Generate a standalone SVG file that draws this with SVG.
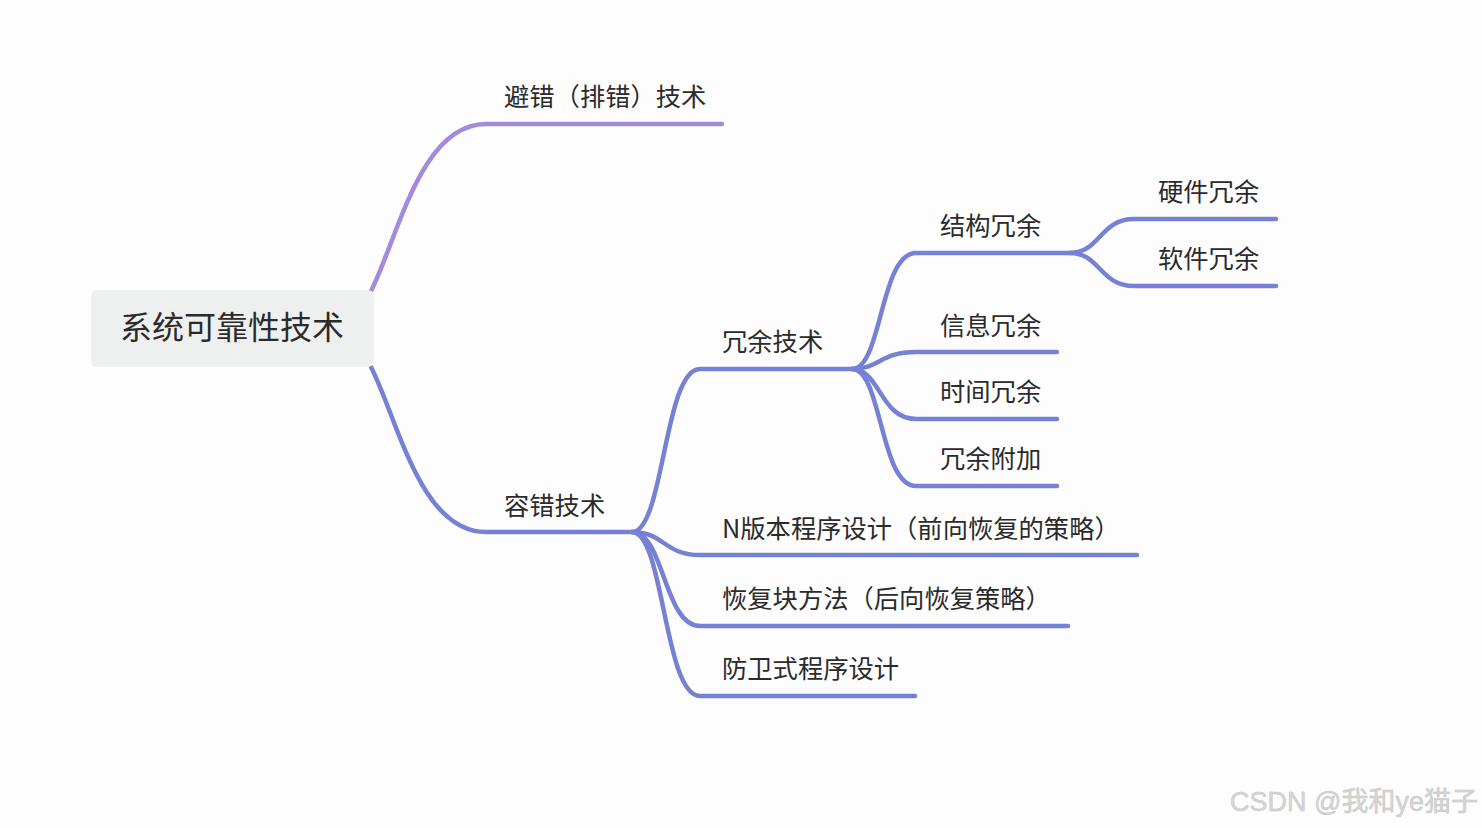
<svg xmlns="http://www.w3.org/2000/svg" width="1482" height="828" viewBox="0 0 1482 828">
<style>
  .t{font-family:"Noto Sans CJK SC","Noto Sans",sans-serif;font-size:25.3px;fill:#2b2b2b}
  .root{font-family:"Noto Sans CJK SC","Noto Sans",sans-serif;font-size:32px;fill:#2b2b2b}
  .c{fill:none;stroke:#7681d5;stroke-width:4.5;stroke-linecap:round;stroke-linejoin:round}
  .p{stroke:#a28bdc}
  .wm{font-family:"Liberation Sans","Noto Sans CJK SC",sans-serif;font-size:27px;fill:#d6d6d6;stroke:#c4c4c4;stroke-width:0.5}
</style>
<rect width="1482" height="828" fill="#fdfdfd"/>
<g id="connectors">
  <path class="c p" d="M371,291 C398,238 420,124 486,124 L722,124"/>
  <path class="c" d="M371,367 C398,420 420,532 486,532 L632,532"/>
  <path class="c" d="M632,532 C664,532 664,369 700,369 L852,369"/>
  <path class="c" d="M632,532 C664,532 664,555 700,555 L1137,555"/>
  <path class="c" d="M632,532 C664,532 664,626 700,626 L1068,626"/>
  <path class="c" d="M632,532 C664,532 664,696 700,696 L915,696"/>
  <path class="c" d="M852,369 C882,369 880,253 916,253 L1070,253"/>
  <path class="c" d="M852,369 C880,369 880,352 916,352 L1057,352"/>
  <path class="c" d="M852,369 C880,369 880,419 916,419 L1057,419"/>
  <path class="c" d="M852,369 C882,369 880,486 916,486 L1057,486"/>
  <path class="c" d="M1070,253 C1100,253 1100,219 1134,219 L1276,219"/>
  <path class="c" d="M1070,253 C1100,253 1100,286 1134,286 L1276,286"/>
</g>
<g id="root">
  <rect x="91" y="290" width="283" height="77" rx="6" fill="#eeefef"/>
  <text class="root" x="120" y="339">系统可靠性技术</text>
</g>
<g id="n-avoid"><text class="t" x="504" y="106">避错（排错）技术</text></g>
<g id="n-tolerant"><text class="t" x="504" y="515">容错技术</text></g>
<g id="n-redundancy"><text class="t" x="722" y="351">冗余技术</text></g>
<g id="n-nversion"><text class="t" x="722" y="538">N版本程序设计（前向恢复的策略）</text></g>
<g id="n-recovery"><text class="t" x="722" y="608">恢复块方法（后向恢复策略）</text></g>
<g id="n-defensive"><text class="t" x="722" y="678">防卫式程序设计</text></g>
<g id="n-struct"><text class="t" x="940" y="235">结构冗余</text></g>
<g id="n-info"><text class="t" x="940" y="335">信息冗余</text></g>
<g id="n-time"><text class="t" x="940" y="401">时间冗余</text></g>
<g id="n-extra"><text class="t" x="940" y="468">冗余附加</text></g>
<g id="n-hw"><text class="t" x="1158" y="201">硬件冗余</text></g>
<g id="n-sw"><text class="t" x="1158" y="268">软件冗余</text></g>
<text class="wm" x="1230" y="811">CSDN @我和ye猫子</text>
</svg>
